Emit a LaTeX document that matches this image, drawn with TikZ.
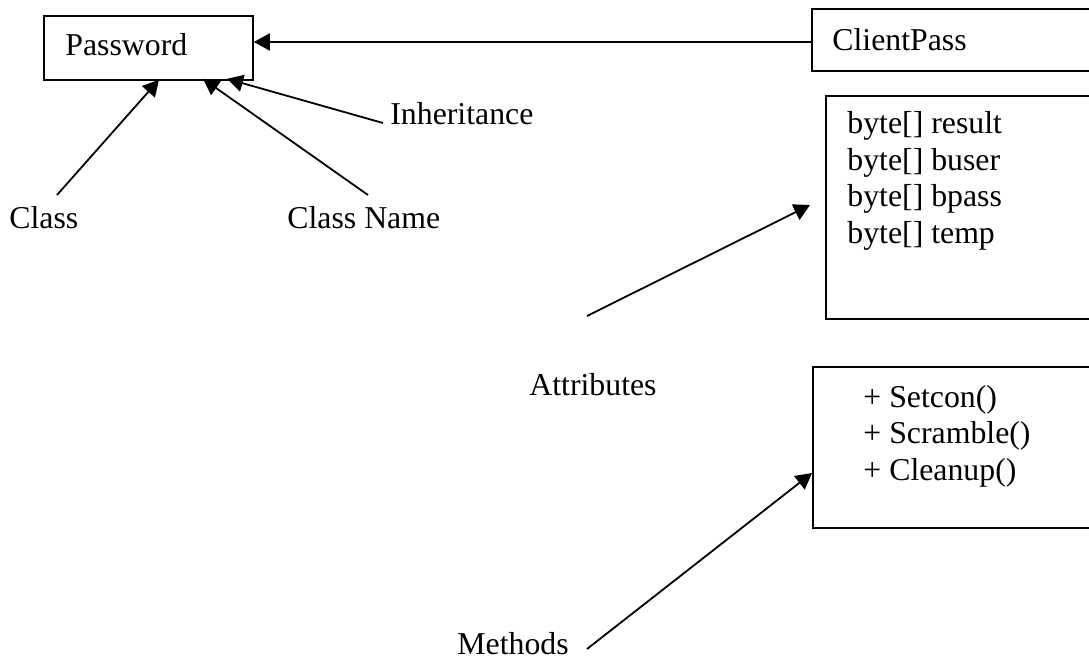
\documentclass[tikz,border=0pt]{standalone}
\usepackage{fontspec}
\setmainfont{Liberation Serif}
\usetikzlibrary{arrows.meta,calc}
\begin{document}
\begin{tikzpicture}[x=0.5pt,y=-0.5pt,
  box/.style={draw, line width=0.9pt, inner sep=0pt, anchor=north west},
  lbl/.style={inner sep=0pt, anchor=base west, font=\fontsize{15.9}{18.2}\selectfont},
  conn/.style={line width=0.9pt, -{Triangle[length=8pt,width=8.5pt]}}]
\clip (0,0) rectangle (1089,660);
% boxes
\node[box, minimum width=104.5pt, minimum height=32pt] (pw) at (43,15) {};
\node[box, minimum width=144.5pt, minimum height=31pt] (cp) at (811,8) {};
\node[box, minimum width=137.5pt, minimum height=111.5pt] (attr) at (825,95) {};
\node[box, minimum width=144pt, minimum height=80.5pt] (meth) at (812,366) {};
% box texts
\node[lbl] (pwt) at (65,55) {Password};
\node[lbl] (cpt) at (832,50) {ClientPass};
\node[lbl] (a1) at (847,133) {byte[] result};
\node[lbl] (a2) at (847,170) {byte[] buser};
\node[lbl] (a3) at (847,206) {byte[] bpass};
\node[lbl] (a4) at (847,243) {byte[] temp};
\node[lbl] (m1) at (863,407) {+ Setcon()};
\node[lbl] (m2) at (863,443) {+ Scramble()};
\node[lbl] (m3) at (863,480) {+ Cleanup()};
% labels
\node[lbl] (lclass) at (9,228) {Class};
\node[lbl] (lcname) at (287,228) {Class Name};
\node[lbl] (linh) at (390,124) {Inheritance};
\node[lbl] (lattr) at (529,395) {Attributes};
\node[lbl] (lmeth) at (457,654) {Methods};
% connector ends
\coordinate (sClass) at (57,195);
\coordinate (sCname) at (368,195);
\coordinate (sInh) at (383,123);
\coordinate (sAttr) at (587,316);
\coordinate (sMeth) at (587,649);
% connectors
\draw[conn] ($(cp.north west)+(0,34)$) -- ($(pw.north east)+(0,27)$);
\draw[conn] (sClass) -- ($(pw.south west)+(116,-1)$);
\draw[conn] (sCname) -- ($(pw.south west)+(160,-2)$);
\draw[conn] (sInh) -- ($(pw.south west)+(184,-2)$);
\draw[conn] (sAttr) -- ($(attr.north west)+(-15,110)$);
\draw[conn] (sMeth) -- ($(meth.north west)+(0,107)$);
\end{tikzpicture}
\end{document}
